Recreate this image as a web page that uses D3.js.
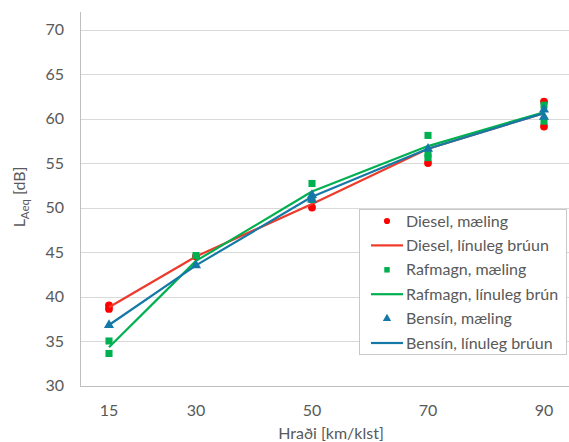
<!DOCTYPE html>
<html>
<head>
<meta charset="utf-8">
<script src="https://cdn.jsdelivr.net/npm/d3@7"></script>
<style>
  html, body { margin: 0; padding: 0; background: #fff; }
  svg { display: block; font-family: Lato, "Open Sans", sans-serif; }
</style>
</head>
<body>
<svg id="chart" width="569" height="442"></svg>
<script>
// Speed categories (km/klst) and y ticks (dB)
const speeds = [15, 30, 50, 70, 90];
const yTicks = [30, 35, 40, 45, 50, 55, 60, 65, 70];

// Measured values [speed, dB]
const dieselMeas  = [[15, 39.0], [15, 38.6], [30, 44.5], [50, 50.0], [70, 55.0], [90, 61.9], [90, 59.1]];
const rafmagnMeas = [[15, 35.0], [15, 33.6], [30, 44.6], [50, 52.7], [50, 50.9], [70, 58.1], [70, 56.0], [70, 55.6], [90, 61.5], [90, 59.7]];
const bensinMeas  = [[15, 36.8], [30, 43.5], [50, 51.4], [50, 50.9], [70, 56.6], [90, 61.0], [90, 60.2]];

// Fitted values at each speed
const dieselLine  = [38.8, 44.5, 50.4, 56.6, 60.6];
const rafmagnLine = [34.3, 44.0, 51.8, 56.9, 60.7];
const bensinLine  = [36.8, 43.5, 51.2, 56.6, 60.6];

const legendLabels = [
  "Diesel, mæling", "Diesel, línuleg brúun",
  "Rafmagn, mæling", "Rafmagn, línuleg brún",
  "Bensín, mæling", "Bensín, línuleg brúun"
];

const colors = { dieselPt: "#FF0000", dieselLn: "#EE3A2A", rafmagn: "#00B050", bensin: "#1479A6" };
const textColor = "#595959";
const fs = 16;

const svg = d3.select("#chart");

const x = d3.scaleLinear().domain([10, 95]).range([80, 573]);
const y = d3.scaleLinear().domain([30, 70]).range([385.5, 29.5]);

// Horizontal gridlines
svg.append("g")
  .selectAll("line")
  .data(yTicks.filter(t => t > 30))
  .join("line")
  .attr("x1", x(10)).attr("x2", 569)
  .attr("y1", d => Math.round(y(d)) + 0.5).attr("y2", d => Math.round(y(d)) + 0.5)
  .attr("stroke", "#D9D9D9").attr("stroke-width", 1);

// Axes lines
svg.append("line")
  .attr("x1", x(10)).attr("x2", 569)
  .attr("y1", Math.round(y(30)) + 0.5).attr("y2", Math.round(y(30)) + 0.5)
  .attr("stroke", "#BFBFBF");
svg.append("line")
  .attr("x1", x(10) + 0.5).attr("x2", x(10) + 0.5)
  .attr("y1", 12).attr("y2", Math.round(y(30)) + 0.5)
  .attr("stroke", "#BFBFBF");

// Y tick labels
svg.append("g")
  .selectAll("text")
  .data(yTicks)
  .join("text")
  .attr("x", 64).attr("y", d => y(d))
  .attr("dy", "0.35em")
  .attr("text-anchor", "end")
  .attr("font-size", fs)
  .attr("fill", textColor)
  .text(d => d);

// X tick labels
svg.append("g")
  .selectAll("text")
  .data(speeds)
  .join("text")
  .attr("x", d => x(d)).attr("y", 410)
  .attr("dy", "0.35em")
  .attr("text-anchor", "middle")
  .attr("font-size", fs)
  .attr("fill", textColor)
  .text(d => d);

// Axis titles
svg.append("text")
  .attr("x", 331).attr("y", 433)
  .attr("dy", "0.35em")
  .attr("text-anchor", "middle")
  .attr("font-size", fs)
  .attr("fill", textColor)
  .text("Hraði [km/klst]");

const yTitle = svg.append("text")
  .attr("transform", "translate(25,197) rotate(-90)")
  .attr("text-anchor", "middle")
  .attr("font-size", fs)
  .attr("fill", textColor);
yTitle.append("tspan").text("L");
yTitle.append("tspan").attr("font-size", 11.5).attr("dy", 4).text("Aeq");
yTitle.append("tspan").attr("dy", -4).text(" [dB]");

// Marker shapes
const circleSym = d3.symbol().type(d3.symbolCircle).size(48);
const squareSym = d3.symbol().type(d3.symbolSquare).size(50);
const triSym = d3.symbol().type(d3.symbolTriangle).size(44);

const line = d3.line().x((d, i) => x(speeds[i])).y(d => y(d));

function drawPoints(data, sym, color) {
  svg.append("g")
    .selectAll("path")
    .data(data)
    .join("path")
    .attr("transform", d => `translate(${x(d[0])},${y(d[1])})`)
    .attr("d", sym)
    .attr("fill", color);
}
function drawLine(values, color) {
  svg.append("path")
    .datum(values)
    .attr("d", line)
    .attr("fill", "none")
    .attr("stroke", color)
    .attr("stroke-width", 2.2)
    .attr("stroke-linejoin", "round");
}

drawPoints(dieselMeas, circleSym, colors.dieselPt);
drawLine(dieselLine, colors.dieselLn);
drawPoints(rafmagnMeas, squareSym, colors.rafmagn);
drawLine(rafmagnLine, colors.rafmagn);
drawPoints(bensinMeas, triSym, colors.bensin);
drawLine(bensinLine, colors.bensin);

// Legend
const lg = svg.append("g");
lg.append("rect")
  .attr("x", 359.5).attr("y", 209.5)
  .attr("width", 207).attr("height", 145)
  .attr("fill", "#fff").attr("stroke", "#C8C8C8");

const legendItems = [
  { kind: "pt", sym: circleSym, color: colors.dieselPt },
  { kind: "ln", color: colors.dieselLn },
  { kind: "pt", sym: squareSym, color: colors.rafmagn },
  { kind: "ln", color: colors.rafmagn },
  { kind: "pt", sym: triSym, color: colors.bensin },
  { kind: "ln", color: colors.bensin }
];
legendItems.forEach((it, i) => {
  const cy = 221 + i * 24.4;
  if (it.kind === "pt") {
    lg.append("path")
      .attr("transform", `translate(387,${cy})`)
      .attr("d", it.sym.size(30)())
      .attr("fill", it.color);
  } else {
    lg.append("line")
      .attr("x1", 371).attr("x2", 403)
      .attr("y1", cy).attr("y2", cy)
      .attr("stroke", it.color).attr("stroke-width", 2.2);
  }
  lg.append("text")
    .attr("x", 406).attr("y", cy)
    .attr("dy", "0.35em")
    .attr("font-size", fs)
    .attr("fill", textColor)
    .text(legendLabels[i]);
});
</script>
</body>
</html>
